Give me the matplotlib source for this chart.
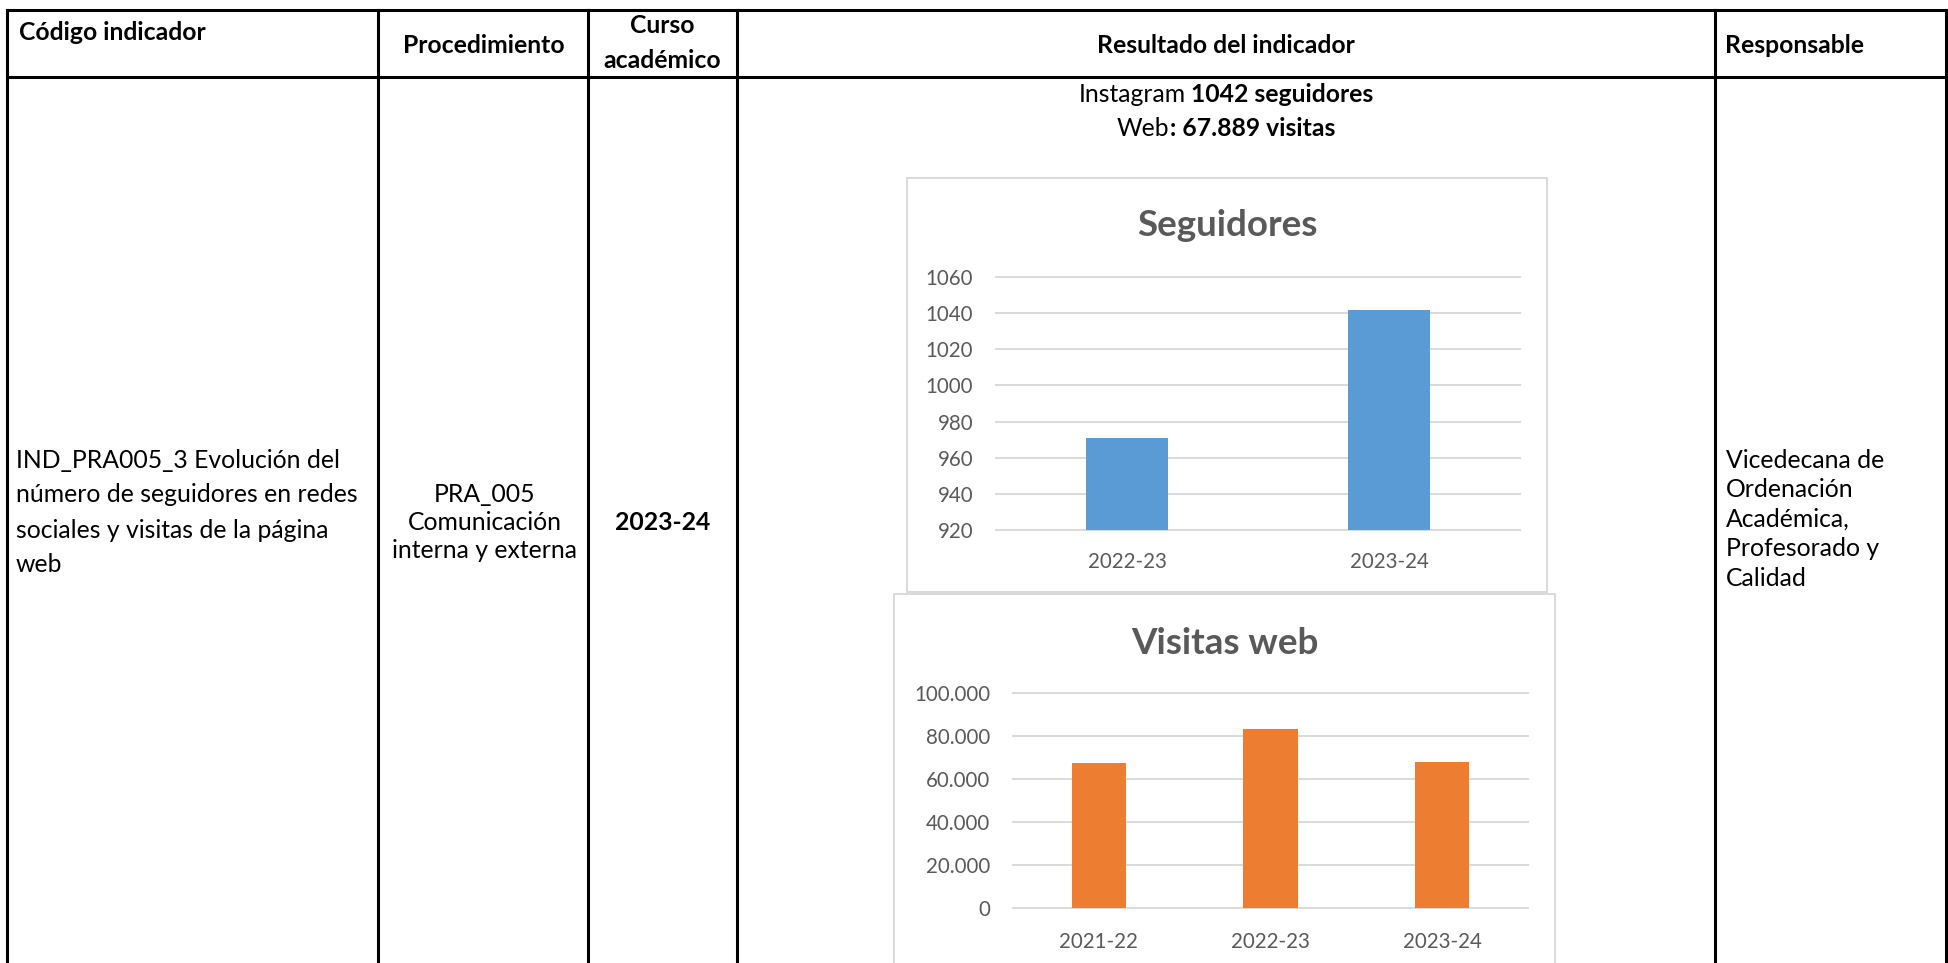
import matplotlib
matplotlib.use('Agg')
import matplotlib.pyplot as plt
from matplotlib.patches import Rectangle
from matplotlib.ticker import MultipleLocator, FuncFormatter

plt.rcParams['font.family'] = ['Lato', 'DejaVu Sans']

# ---------------- data ----------------
headers = ['Código indicador', 'Procedimiento', 'Curso\nacadémico',
           'Resultado del indicador', 'Responsable']
indicator_lines = ['IND_PRA005_3 Evolución del', 'número de seguidores en redes',
                   'sociales y visitas de la página', 'web']
procedure_lines = ['PRA_005', 'Comunicación', 'interna y externa']
course = '2023-24'
responsible_lines = ['Vicedecana de', 'Ordenación', 'Académica,',
                     'Profesorado y', 'Calidad']

seg_title = 'Seguidores'
seg_cats = ['2022-23', '2023-24']
seg_vals = [971, 1042]

vis_title = 'Visitas web'
vis_cats = ['2021-22', '2022-23', '2023-24']
vis_vals = [67600, 83400, 67889]

# ---------------- figure ----------------
W, H = 1948, 963
fig = plt.figure(figsize=(W / 100, H / 100), dpi=100)
fig.patch.set_facecolor('white')
ax0 = fig.add_axes([0, 0, 1, 1])
ax0.set_xlim(0, W)
ax0.set_ylim(H, 0)
ax0.axis('off')

TXT = 'black'
GRAY = '#595959'
GRID = '#d9d9d9'

# table lines
cols = [7, 378, 588, 737, 1715, 1946]
for x in cols:
    ax0.plot([x, x], [10, H + 5], color='black', lw=2.2, solid_capstyle='projecting')
for y in [10, 77]:
    ax0.plot([cols[0], cols[-1]], [y, y], color='black', lw=2.2, solid_capstyle='projecting')

# headers
HS = 17.8
ax0.text(19, 40, headers[0], fontsize=HS, fontweight='bold', color=TXT, ha='left', va='baseline')
ax0.text(484, 53, headers[1], fontsize=HS, fontweight='bold', color=TXT, ha='center', va='baseline')
c1, c2 = headers[2].split('\n')
ax0.text(662, 33, c1, fontsize=HS, fontweight='bold', color=TXT, ha='center', va='baseline')
ax0.text(662, 68, c2, fontsize=HS, fontweight='bold', color=TXT, ha='center', va='baseline')
ax0.text(1226, 53, headers[3], fontsize=HS, fontweight='bold', color=TXT, ha='center', va='baseline')
ax0.text(1725, 53, headers[4], fontsize=HS, fontweight='bold', color=TXT, ha='left', va='baseline')

# body
BS = 17.8
for i, s in enumerate(indicator_lines):
    ax0.text(16, 460 + i * 35, s, fontsize=BS, color=TXT, ha='left', va='center')
for i, s in enumerate(procedure_lines):
    ax0.text(485, 494 + i * 28.5, s, fontsize=BS, color=TXT, ha='center', va='center')
ax0.text(663, 522, course, fontsize=BS, fontweight='bold', color=TXT, ha='center', va='center')
for i, s in enumerate(responsible_lines):
    ax0.text(1726, 460 + i * 29.5, s, fontsize=BS, color=TXT, ha='left', va='center')


def mixed_line(cx, y, parts, size):
    texts = []
    for s, w in parts:
        texts.append(ax0.text(0, y, s, fontsize=size, fontweight=w, color=TXT,
                              ha='left', va='center'))
    fig.canvas.draw()
    r = fig.canvas.get_renderer()
    widths = [t.get_window_extent(r).width for t in texts]
    x = cx - sum(widths) / 2
    for t, w in zip(texts, widths):
        t.set_x(x)
        x += w


mixed_line(1226, 94, [('Instagram', 'normal'), (' 1042 seguidores', 'bold')], BS)
mixed_line(1226, 129, [('Web', 'normal'), (': 67.889 visitas', 'bold')], BS)

# chart frames
ax0.add_patch(Rectangle((907, 178), 640, 414, facecolor='white', edgecolor=GRID, lw=1.4))
ax0.add_patch(Rectangle((894, 594), 661, 400, facecolor='white', edgecolor=GRID, lw=1.4))

ax0.text(1227, 225, seg_title, fontsize=26.5, fontweight='bold', color=GRAY, ha='center', va='center')
ax0.text(1225, 643, vis_title, fontsize=26.5, fontweight='bold', color=GRAY, ha='center', va='center')


def px_axes(x0, x1, y0, y1):
    return fig.add_axes([x0 / W, 1 - y1 / H, (x1 - x0) / W, (y1 - y0) / H])


def style(ax, xpad):
    ax.set_facecolor('none')
    for s in ax.spines.values():
        s.set_visible(False)
    ax.set_axisbelow(True)
    ax.grid(axis='y', color=GRID, lw=1.4)
    ax.grid(axis='x', visible=False)
    ax.tick_params(axis='both', length=0, labelsize=14.8, labelcolor=GRAY)
    ax.tick_params(axis='y', pad=16.5)
    ax.tick_params(axis='x', pad=xpad)
    for ln in ax.get_ygridlines():
        ln.set_clip_on(False)


ax1 = px_axes(996, 1520, 277, 530)
ax1.bar(range(len(seg_cats)), seg_vals, width=0.31, color='#5b9bd5')
ax1.set_xlim(-0.5, len(seg_cats) - 0.5)
ax1.set_ylim(920, 1060)
ax1.yaxis.set_major_locator(MultipleLocator(20))
ax1.set_xticks(range(len(seg_cats)))
ax1.set_xticklabels(seg_cats)
style(ax1, 15.5)

ax2 = px_axes(1013, 1528, 693, 908)
ax2.bar(range(len(vis_cats)), vis_vals, width=0.315, color='#ed7d31')
ax2.set_xlim(-0.5, len(vis_cats) - 0.5)
ax2.set_ylim(0, 100000)
ax2.yaxis.set_major_locator(MultipleLocator(20000))
ax2.yaxis.set_major_formatter(FuncFormatter(lambda v, p: f"{int(round(v)):,}".replace(',', '.')))
ax2.set_xticks(range(len(vis_cats)))
ax2.set_xticklabels(vis_cats)
style(ax2, 17.5)

fig.savefig('out.png', dpi=100, facecolor='white')
